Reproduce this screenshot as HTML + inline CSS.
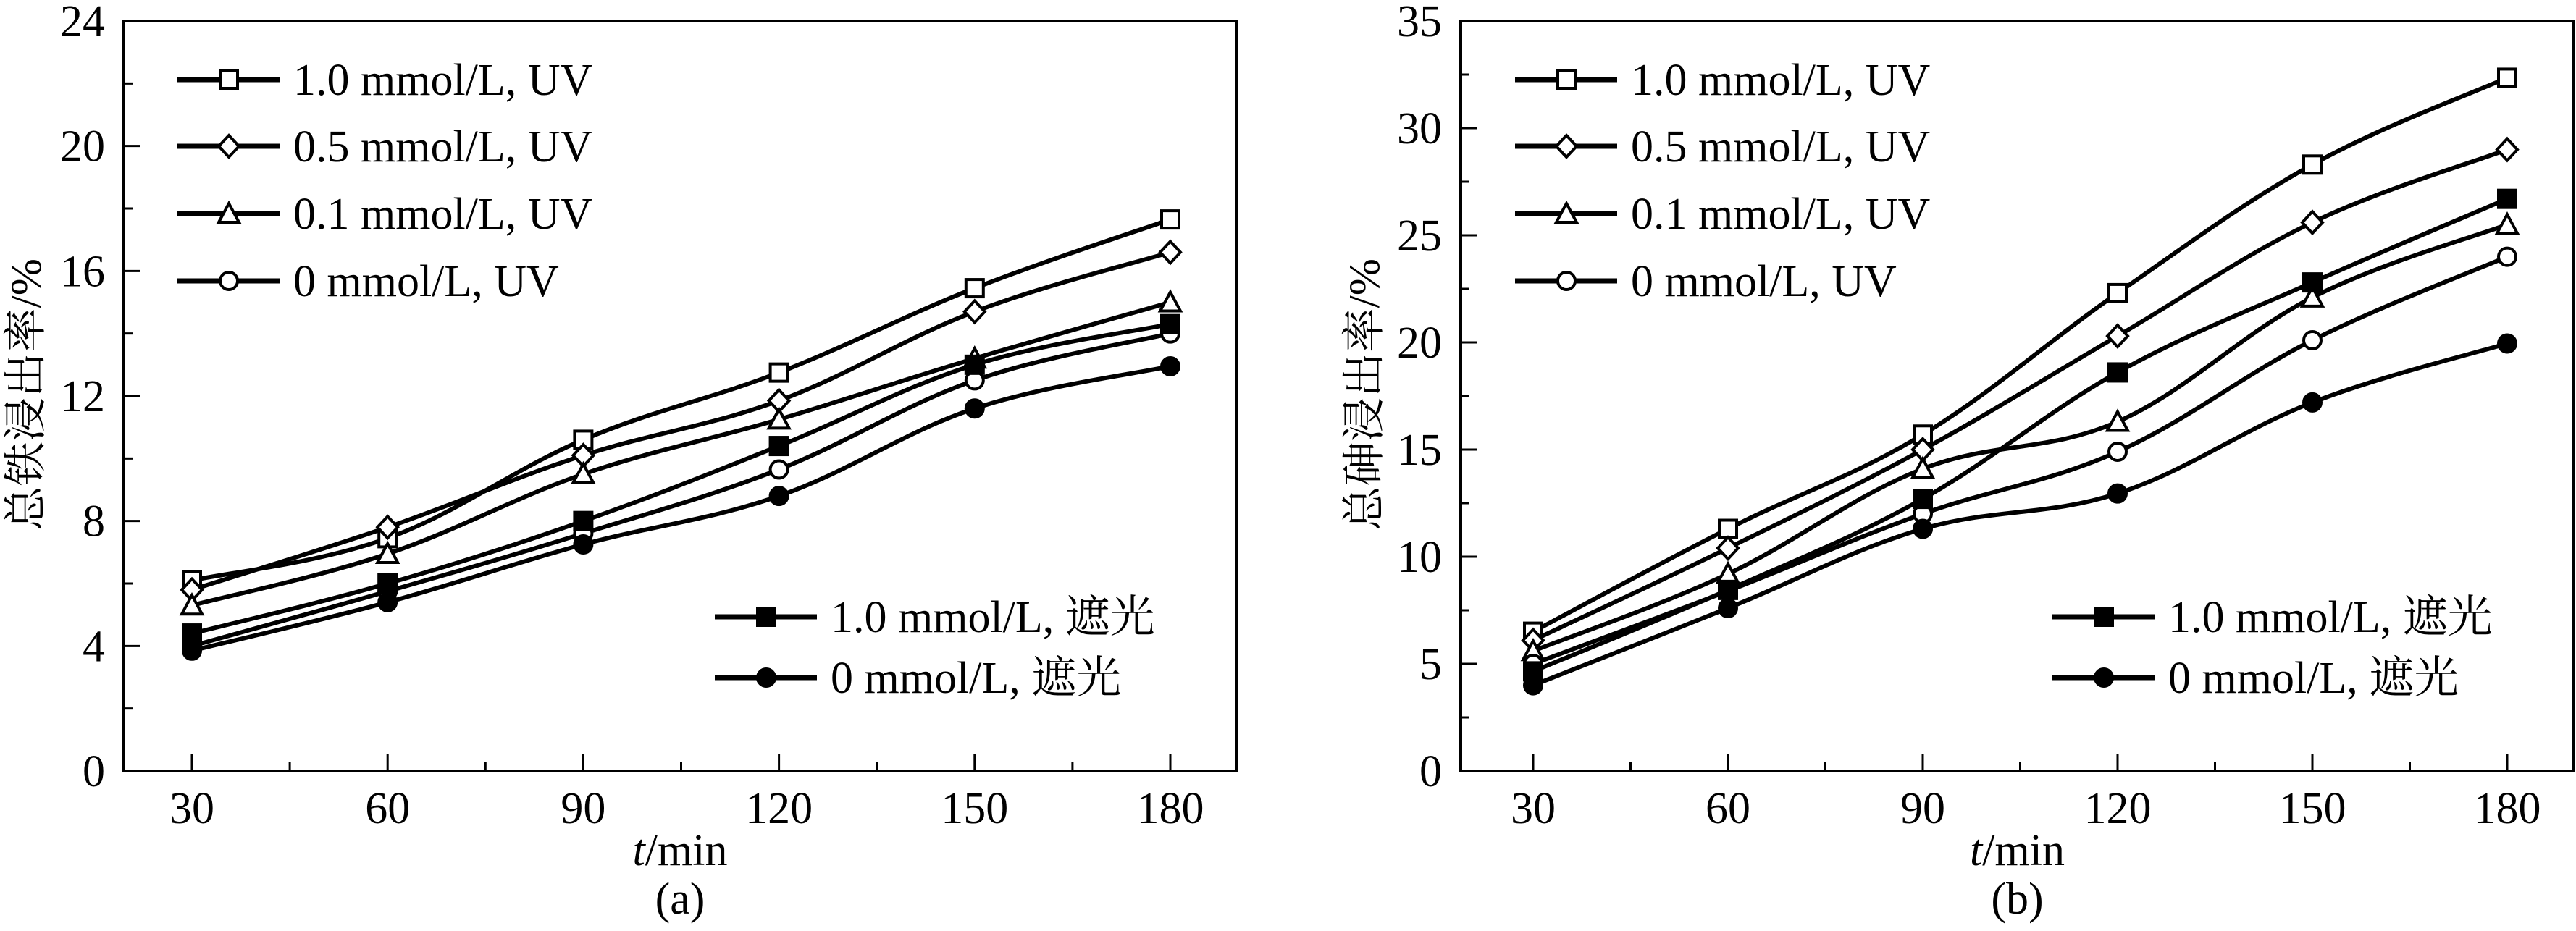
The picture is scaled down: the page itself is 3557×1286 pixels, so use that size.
<!DOCTYPE html>
<html><head><meta charset="utf-8"><style>
html,body{margin:0;padding:0;background:#fff}
svg text{font-family:"Liberation Serif","Noto Serif CJK SC",serif;fill:#000}
</style></head><body>
<svg id="fig" xmlns="http://www.w3.org/2000/svg" width="3557" height="1281" viewBox="0 0 3557 1281"></svg>
<script>
// shared categories
const times = [30, 60, 90, 120, 150, 180];
const xTickLabels = ['30','60','90','120','150','180'];
const seriesLabels = ['1.0 mmol/L, UV','0.5 mmol/L, UV','0.1 mmol/L, UV','0 mmol/L, UV','1.0 mmol/L, 遮光','0 mmol/L, 遮光'];
const seriesMarkers = ['square-open','diamond-open','triangle-open','circle-open','square-filled','circle-filled'];
// panel (a) iron
const feTicks = [0,4,8,12,16,20,24];
const fe10UV = [6.1, 7.45, 10.6, 12.75, 15.45, 17.65];
const fe05UV = [5.8, 7.8, 10.1, 11.85, 14.7, 16.6];
const fe01UV = [5.3, 6.95, 9.5, 11.25, 13.2, 15.0];
const fe0UV  = [4.0, 5.75, 7.6, 9.65, 12.5, 14.0];
const fe10Dark = [4.4, 6.0, 8.0, 10.4, 13.0, 14.3];
const fe0Dark  = [3.85, 5.4, 7.25, 8.8, 11.6, 12.95];
// panel (b) arsenic
const asTicks = [0,5,10,15,20,25,30,35];
const as10UV = [6.5, 11.3, 15.7, 22.3, 28.3, 32.35];
const as05UV = [6.1, 10.4, 15.0, 20.3, 25.6, 29.0];
const as01UV = [5.6, 9.2, 14.1, 16.3, 22.1, 25.5];
const as0UV  = [5.0, 8.4, 12.0, 14.9, 20.1, 24.0];
const as10Dark = [4.65, 8.45, 12.7, 18.6, 22.8, 26.7];
const as0Dark  = [4.0, 7.6, 11.3, 12.95, 17.2, 19.95];

const NS='http://www.w3.org/2000/svg';
const svg=document.getElementById('fig');
function mk(tag,attrs,parent){const e=document.createElementNS(NS,tag);for(const k in attrs)e.setAttribute(k,attrs[k]);(parent||svg).appendChild(e);return e;}

function marker(g,type,x,y){
  const s=12, sw=4;
  let e;
  if(type.startsWith('square')) e=mk('rect',{x:x-s,y:y-s,width:2*s,height:2*s,fill:type.endsWith('filled')?'#000':'#fff',stroke:'#000','stroke-width':sw},g);
  else if(type.startsWith('circle')) e=mk('circle',{cx:x,cy:y,r:s,fill:type.endsWith('filled')?'#000':'#fff',stroke:'#000','stroke-width':sw},g);
  else if(type.startsWith('diamond')) e=mk('polygon',{points:`${x},${y-15} ${x+14},${y} ${x},${y+15} ${x-14},${y}`,fill:'#fff',stroke:'#000','stroke-width':sw},g);
  else e=mk('polygon',{points:`${x},${y-14} ${x+14},${y+12} ${x-14},${y+12}`,fill:'#fff',stroke:'#000','stroke-width':sw},g);
  return e;
}

function smooth(pts){
  let d=`M${pts[0][0]},${pts[0][1]}`;
  for(let i=0;i<pts.length-1;i++){
    const p0=pts[Math.max(0,i-1)],p1=pts[i],p2=pts[i+1],p3=pts[Math.min(pts.length-1,i+2)];
    const t=0.18;
    const c1=[p1[0]+(p2[0]-p0[0])*t,p1[1]+(p2[1]-p0[1])*t];
    const c2=[p2[0]-(p3[0]-p1[0])*t,p2[1]-(p3[1]-p1[1])*t];
    d+=` C${c1[0]},${c1[1]} ${c2[0]},${c2[1]} ${p2[0]},${p2[1]}`;
  }
  return d;
}

function panel(cfg){
  const g=mk('g',{});
  
  
  const {L,R,T,B,x30,dx,ymax}=cfg;
  const X=t=>x30+(t-30)/30*dx;
  const Y=v=>B-v/ymax*(B-T);
  const fr=mk('rect',{x:L,y:T,width:R-L,height:B-T,fill:'none',stroke:'#000','stroke-width':4},g);
  
  
  const yt=cfg.yTicks;
  const step=yt[1]-yt[0];
  for(let i=0;i<yt.length;i++){
    const v=yt[i];
    if(i>0&&i<yt.length-1) mk('line',{x1:L,y1:Y(v),x2:L+23,y2:Y(v),stroke:'#000','stroke-width':3},g);
    if(i<yt.length-1) mk('line',{x1:L,y1:Y(v+step/2),x2:L+12,y2:Y(v+step/2),stroke:'#000','stroke-width':3},g);
    const tx=mk('text',{x:L-26,y:Y(v)+21,'font-size':62,'text-anchor':'end'},g);
    tx.textContent=String(v);
    
    
  }
  for(let i=0;i<times.length;i++){
    const x=X(times[i]);
    mk('line',{x1:x,y1:B,x2:x,y2:B-23,stroke:'#000','stroke-width':3},g);
    const xm=X(times[i]+15);
    if(xm<R-5) mk('line',{x1:xm,y1:B,x2:xm,y2:B-12,stroke:'#000','stroke-width':3},g);
    const tx=mk('text',{x:x,y:1137,'font-size':62,'text-anchor':'middle'},g);
    tx.textContent=xTickLabels[i];
    
    
  }
  const xt=mk('text',{x:(L+R)/2,y:1195,'font-size':62,'text-anchor':'middle'},g);
  xt.innerHTML='<tspan font-style="italic">t</tspan>/min';
  
  
  const yttl=mk('text',{x:0,y:0,'font-size':60,'text-anchor':'middle',textLength:376,lengthAdjust:'spacingAndGlyphs',transform:`translate(${cfg.ytx},545) rotate(-90)`},g);
  yttl.textContent=cfg.ytitle;
  
  
  const cap=mk('text',{x:(L+R)/2,y:1262,'font-size':62,'text-anchor':'middle'},g);
  cap.textContent=cfg.caption;
  
  
  cfg.series.forEach((vals,si)=>{
    const sg=mk('g',{},g);
    
    
    const pts=vals.map((v,i)=>[X(times[i]),Y(v)]);
    mk('path',{d:smooth(pts),fill:'none',stroke:'#000','stroke-width':6,'stroke-linejoin':'round'},sg);
    pts.forEach(p=>{const m=marker(sg,seriesMarkers[si],p[0],p[1]);
      
      });
  });
  const lg=cfg.legend;
  seriesLabels.forEach((lab,si)=>{
    const e=lg[si];
    const le=mk('g',{},g);
    
    
    mk('line',{x1:e[0],y1:e[1],x2:e[0]+141,y2:e[1],stroke:'#000','stroke-width':7},le);
    marker(le,seriesMarkers[si],e[0]+71,e[1]);
    const t=mk('text',{x:e[0]+160,y:e[1]+21,'font-size':62},le);
    t.textContent=lab;
  });
}

panel({name:'panel-a-iron',L:171,R:1707,T:29,B:1065,x30:265,dx:270.2,ymax:24,yTicks:feTicks,
  ytitle:'总铁浸出率/%',ytx:56,caption:'(a)',
  series:[fe10UV,fe05UV,fe01UV,fe0UV,fe10Dark,fe0Dark],
  legend:[[245,110],[245,202],[245,295],[245,388],[987,852],[987,936]]});
panel({name:'panel-b-arsenic',L:2017,R:3554,T:29,B:1065,x30:2117,dx:269,ymax:35,yTicks:asTicks,
  ytitle:'总砷浸出率/%',ytx:1904,caption:'(b)',
  series:[as10UV,as05UV,as01UV,as0UV,as10Dark,as0Dark],
  legend:[[2092,110],[2092,202],[2092,295],[2092,388],[2834,852],[2834,936]]});
</script>
</body></html>
